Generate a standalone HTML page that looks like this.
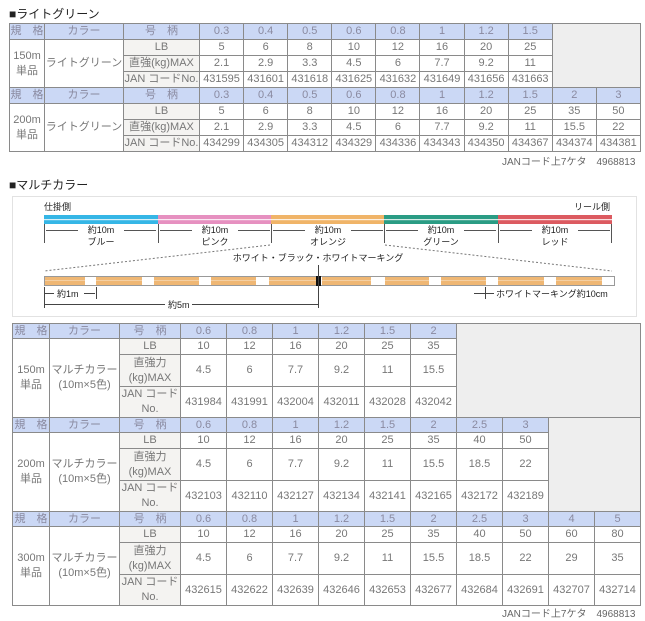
<!DOCTYPE html>
<html><head><meta charset="utf-8">
<style>
*{margin:0;padding:0;box-sizing:border-box}
body{width:645px;height:621px;background:#fff;position:relative;overflow:hidden;font-family:"Liberation Sans","Noto Sans CJK JP",sans-serif;color:#777;}
.t{position:absolute;left:9px;border-collapse:collapse;table-layout:fixed;font-size:11px;}
.t td{border:1px solid #8a8a8a;text-align:center;padding:0;line-height:13px;white-space:nowrap;overflow:hidden}
.h td{background:#cbd8f5;color:#8a8aa0}
.l{background:#f4f3f1}
.g{background:#eeeeee}
.ttl{position:absolute;left:9px;font-size:12px;color:#222;}
.note{position:absolute;font-size:10px;color:#666;}
</style></head><body>
<div class="ttl" style="top:5px">■ライトグリーン</div>
<table class="t" style="top:23px;width:631px">
<colgroup><col style="width:35px"><col style="width:79px"><col style="width:76px"><col span="10" style="width:44.1px"></colgroup>
<tr class="h" style="height:16px"><td>規　格</td><td>カラー</td><td>号　柄</td><td>0.3</td><td>0.4</td><td>0.5</td><td>0.6</td><td>0.8</td><td>1</td><td>1.2</td><td>1.5</td><td class="g" colspan="2" rowspan="4" style="background:#eee"></td></tr>
<tr style="height:16px"><td rowspan="3" style="line-height:15px">150m<br>単品</td><td rowspan="3">ライトグリーン</td><td class="l">LB</td><td>5</td><td>6</td><td>8</td><td>10</td><td>12</td><td>16</td><td>20</td><td>25</td></tr>
<tr style="height:16px"><td class="l">直強(kg)MAX</td><td>2.1</td><td>2.9</td><td>3.3</td><td>4.5</td><td>6</td><td>7.7</td><td>9.2</td><td>11</td></tr>
<tr style="height:16px"><td class="l">JAN コードNo.</td><td>431595</td><td>431601</td><td>431618</td><td>431625</td><td>431632</td><td>431649</td><td>431656</td><td>431663</td></tr>
<tr class="h" style="height:16px"><td>規　格</td><td>カラー</td><td>号　柄</td><td>0.3</td><td>0.4</td><td>0.5</td><td>0.6</td><td>0.8</td><td>1</td><td>1.2</td><td>1.5</td><td>2</td><td>3</td></tr>
<tr style="height:16px"><td rowspan="3" style="line-height:15px">200m<br>単品</td><td rowspan="3">ライトグリーン</td><td class="l">LB</td><td>5</td><td>6</td><td>8</td><td>10</td><td>12</td><td>16</td><td>20</td><td>25</td><td>35</td><td>50</td></tr>
<tr style="height:16px"><td class="l">直強(kg)MAX</td><td>2.1</td><td>2.9</td><td>3.3</td><td>4.5</td><td>6</td><td>7.7</td><td>9.2</td><td>11</td><td>15.5</td><td>22</td></tr>
<tr style="height:16px"><td class="l">JAN コードNo.</td><td>434299</td><td>434305</td><td>434312</td><td>434329</td><td>434336</td><td>434343</td><td>434350</td><td>434367</td><td>434374</td><td>434381</td></tr>
</table>
<div class="note" style="top:153px;left:502px">JANコード上7ケタ　4968813</div>

<div class="ttl" style="top:176px">■マルチカラー</div>
<svg style="position:absolute;left:0;top:0" width="645" height="621">
<rect x="12.5" y="196.5" width="624" height="120" fill="#fff" stroke="#e2e2e2"/>
<g font-family="Liberation Sans,Noto Sans CJK JP,sans-serif" font-size="9" fill="#222">
<text x="44" y="210">仕掛側</text><text x="610" y="210" text-anchor="end">リール側</text>
</g>
<rect x="44" y="215" width="114" height="9" fill="#35b6e6"/>
<rect x="158" y="215" width="113" height="9" fill="#e690c0"/>
<rect x="271" y="215" width="113" height="9" fill="#f0b468"/>
<rect x="384" y="215" width="114" height="9" fill="#2a9c84"/>
<rect x="498" y="215" width="114" height="9" fill="#dc5a60"/>
<rect x="44" y="219" width="568" height="1.2" fill="#fff" opacity=".8"/>
<g stroke="#555" stroke-width="1">
<line x1="44.5" y1="224" x2="44.5" y2="243"/><line x1="158.5" y1="224" x2="158.5" y2="243"/><line x1="271.5" y1="224" x2="271.5" y2="243"/><line x1="384.5" y1="224" x2="384.5" y2="243"/><line x1="498.5" y1="224" x2="498.5" y2="243"/><line x1="611.5" y1="224" x2="611.5" y2="243"/>
<line x1="46" y1="230.5" x2="78" y2="230.5"/><line x1="124" y1="230.5" x2="156" y2="230.5"/>
<line x1="160" y1="230.5" x2="192" y2="230.5"/><line x1="238" y1="230.5" x2="270" y2="230.5"/>
<line x1="273" y1="230.5" x2="305" y2="230.5"/><line x1="351" y1="230.5" x2="383" y2="230.5"/>
<line x1="386" y1="230.5" x2="418" y2="230.5"/><line x1="464" y1="230.5" x2="496" y2="230.5"/>
<line x1="500" y1="230.5" x2="532" y2="230.5"/><line x1="578" y1="230.5" x2="610" y2="230.5"/>
</g>
<g stroke="#777" stroke-dasharray="2,2"><line x1="270" y1="245" x2="44" y2="271"/><line x1="385" y1="245" x2="612" y2="271"/></g>
<g font-family="Liberation Sans,Noto Sans CJK JP,sans-serif" font-size="9" fill="#222" text-anchor="middle">
<text x="101" y="233">約10m</text><text x="101" y="245">ブルー</text>
<text x="215" y="233">約10m</text><text x="215" y="245">ピンク</text>
<text x="328" y="233">約10m</text><text x="328" y="245">オレンジ</text>
<text x="441" y="233">約10m</text><text x="441" y="245">グリーン</text>
<text x="555" y="233">約10m</text><text x="555" y="245">レッド</text>
<text x="318" y="261">ホワイト・ブラック・ホワイトマーキング</text>
</g>
<rect x="44.5" y="276.5" width="570" height="9" fill="#fff" stroke="#999"/>
<g fill="#efb774">
<rect x="45" y="277" width="40" height="8"/><rect x="96" y="277" width="46" height="8"/><rect x="154" y="277" width="45" height="8"/><rect x="211" y="277" width="45" height="8"/><rect x="269" y="277" width="47" height="8"/><rect x="322" y="277" width="49" height="8"/><rect x="385" y="277" width="44" height="8"/><rect x="441" y="277" width="45" height="8"/><rect x="498" y="277" width="46" height="8"/><rect x="556" y="277" width="46" height="8"/>
</g>
<rect x="45" y="280" width="557" height="1" fill="#fff" opacity=".35"/>
<rect x="316" y="276" width="5" height="10" fill="#111"/>
<g stroke="#444" stroke-width="1">
<line x1="318.5" y1="265" x2="318.5" y2="308"/>
<line x1="44.5" y1="287" x2="44.5" y2="308"/><line x1="96.5" y1="287" x2="96.5" y2="299"/>
<line x1="45" y1="293.5" x2="54" y2="293.5"/><line x1="84" y1="293.5" x2="95" y2="293.5"/>
<line x1="45" y1="304.5" x2="165" y2="304.5"/><line x1="192" y1="304.5" x2="318" y2="304.5"/>
<line x1="485.5" y1="287" x2="485.5" y2="299"/><line x1="474" y1="293.5" x2="485" y2="293.5"/><line x1="486" y1="293.5" x2="494" y2="293.5"/>
</g>
<g font-family="Liberation Sans,Noto Sans CJK JP,sans-serif" font-size="9" fill="#222">
<text x="57" y="297">約1m</text><text x="168" y="308">約5m</text><text x="496" y="297">ホワイトマーキング約10cm</text>
</g>
</svg>

<table class="t" style="top:323px;left:12px;width:628px">
<colgroup><col style="width:37px"><col style="width:70px"><col style="width:61px"><col span="10" style="width:46px"></colgroup>
<tr class="h" style="height:15px"><td>規　格</td><td>カラー</td><td>号　柄</td><td>0.6</td><td>0.8</td><td>1</td><td>1.2</td><td>1.5</td><td>2</td><td colspan="4" rowspan="4" style="background:#eee"></td></tr>
<tr style="height:16px"><td rowspan="3" style="line-height:15px">150m<br>単品</td><td rowspan="3" style="line-height:15px">マルチカラー<br>(10m×5色)</td><td class="l">LB</td><td>10</td><td>12</td><td>16</td><td>20</td><td>25</td><td>35</td></tr>
<tr style="height:32px"><td class="l" style="line-height:15px">直強力<br>(kg)MAX</td><td>4.5</td><td>6</td><td>7.7</td><td>9.2</td><td>11</td><td>15.5</td></tr>
<tr style="height:31px"><td class="l" style="line-height:15px">JAN コード<br>No.</td><td>431984</td><td>431991</td><td>432004</td><td>432011</td><td>432028</td><td>432042</td></tr>
<tr class="h" style="height:15px"><td>規　格</td><td>カラー</td><td>号　柄</td><td>0.6</td><td>0.8</td><td>1</td><td>1.2</td><td>1.5</td><td>2</td><td>2.5</td><td>3</td><td colspan="2" rowspan="4" style="background:#eee"></td></tr>
<tr style="height:16px"><td rowspan="3" style="line-height:15px">200m<br>単品</td><td rowspan="3" style="line-height:15px">マルチカラー<br>(10m×5色)</td><td class="l">LB</td><td>10</td><td>12</td><td>16</td><td>20</td><td>25</td><td>35</td><td>40</td><td>50</td></tr>
<tr style="height:32px"><td class="l" style="line-height:15px">直強力<br>(kg)MAX</td><td>4.5</td><td>6</td><td>7.7</td><td>9.2</td><td>11</td><td>15.5</td><td>18.5</td><td>22</td></tr>
<tr style="height:31px"><td class="l" style="line-height:15px">JAN コード<br>No.</td><td>432103</td><td>432110</td><td>432127</td><td>432134</td><td>432141</td><td>432165</td><td>432172</td><td>432189</td></tr>
<tr class="h" style="height:15px"><td>規　格</td><td>カラー</td><td>号　柄</td><td>0.6</td><td>0.8</td><td>1</td><td>1.2</td><td>1.5</td><td>2</td><td>2.5</td><td>3</td><td>4</td><td>5</td></tr>
<tr style="height:16px"><td rowspan="3" style="line-height:15px">300m<br>単品</td><td rowspan="3" style="line-height:15px">マルチカラー<br>(10m×5色)</td><td class="l">LB</td><td>10</td><td>12</td><td>16</td><td>20</td><td>25</td><td>35</td><td>40</td><td>50</td><td>60</td><td>80</td></tr>
<tr style="height:32px"><td class="l" style="line-height:15px">直強力<br>(kg)MAX</td><td>4.5</td><td>6</td><td>7.7</td><td>9.2</td><td>11</td><td>15.5</td><td>18.5</td><td>22</td><td>29</td><td>35</td></tr>
<tr style="height:31px"><td class="l" style="line-height:15px">JAN コード<br>No.</td><td>432615</td><td>432622</td><td>432639</td><td>432646</td><td>432653</td><td>432677</td><td>432684</td><td>432691</td><td>432707</td><td>432714</td></tr>
</table>
<div class="note" style="top:605px;left:502px">JANコード上7ケタ　4968813</div>
</body></html>
